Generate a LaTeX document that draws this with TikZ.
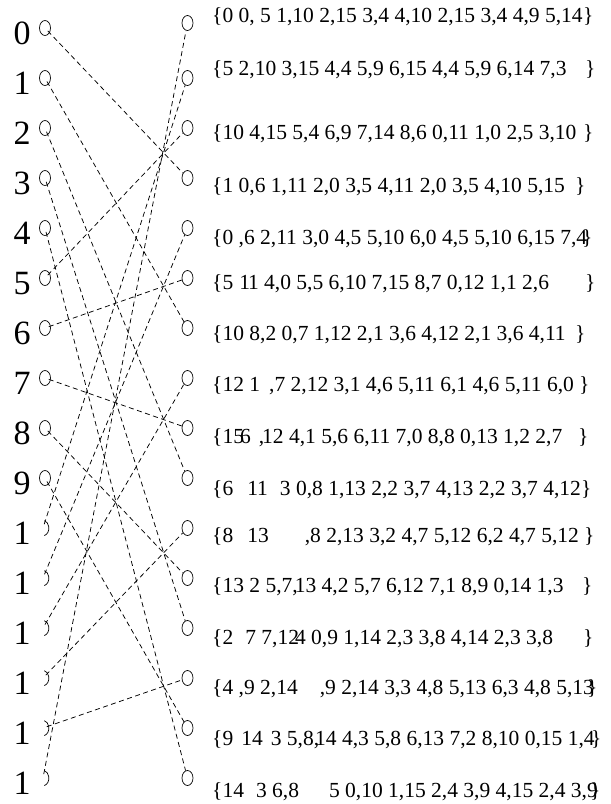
\documentclass[tikz,border=0pt]{standalone}
\usepackage{fontspec}
\setmainfont{Liberation Serif}
\usetikzlibrary{shapes.geometric}

\begin{document}
\begin{tikzpicture}[
  x=1pt, y=-1pt,
  dot/.style={draw, ellipse, minimum width=11pt, minimum height=15pt, inner sep=0pt, line width=0.7pt},
  halfdot/.style={ellipse, minimum width=11pt, minimum height=15pt, inner sep=0pt},
  idx/.style={font=\fontsize{34}{34}\selectfont, anchor=base, inner sep=0pt},
  pairs/.style={font=\fontsize{21.5}{21.5}\selectfont, anchor=base west, inner sep=0pt},
  link/.style={dash pattern=on 5pt off 3.5pt, line width=0.75pt}
]
\useasboundingbox (0,0) rectangle (611,804);
% index labels and the two columns of points
\foreach \k in {0,...,15} {
  \pgfmathtruncatemacro\lab{ifthenelse(\k<10,\k,1)}
  \pgfmathsetmacro\ry{ifthenelse(\k==0,23,28+50*\k)}
  \node[idx] (n\k) at (22,{28+50*\k+16}) {\lab};
  \node[dot] (r\k) at (187.5,\ry) {};
}
\foreach \k in {0,...,9}
  \node[dot] (l\k) at (45,{28+50*\k}) {};
\foreach \k in {10,...,15} {
  \node[halfdot] (l\k) at (43,{28+50*\k}) {};
  \draw[line width=0.7pt] (l\k.-80) arc[start angle=-80, end angle=80, x radius=5.5pt, y radius=7.5pt];
}
% k -> 3(k+1) mod 16
\foreach \k/\m in {0/3,1/6,2/9,3/12,4/15,5/2,6/5,7/8,8/11,9/14,10/1,11/4,12/7,13/10,14/13,15/0}
  \draw[link, shorten <=4pt] (l\k.center) -- (r\m);
% the pair sets
\foreach \k/\ty/\txt/\cx in {
  0/15/{0 0, 5 1,10 2,15 3,4 4,10 2,15 3,4 4,9 5,14}/583,
  1/68/{5 2,10 3,15 4,4 5,9 6,15 4,4 5,9 6,14 7,3}/585,
  2/132/{10 4,15 5,4 6,9 7,14 8,6 0,11 1,0 2,5 3,10}/583,
  3/185/{1 0,6 1,11 2,0 3,5 4,11 2,0 3,5 4,10 5,15}/575,
  4/237/{0 ,6 2,11 3,0 4,5 5,10 6,0 4,5 5,10 6,15 7,4}/582,
  5/282/{5\hspace{6pt}1\kern-2pt1 4,0 5,5 6,10 7,15 8,7 0,12 1,1 2,6}/585,
  6/333/{10 8,2 0,7 1,12 2,1 3,6 4,12 2,1 3,6 4,11}/575,
  7/384/{12 1\hspace{9pt},7 2,12 3,1 4,6 5,11 6,1 4,6 5,11 6,0}/579,
  8/436/{15\kern-4pt6\hspace{8pt},\kern-2pt12 4,1 5,6 6,11 7,0 8,8 0,13 1,2 2,7}/578,
  9/488/{6\hspace{14pt}11\hspace{12pt}3 0,8 1,13 2,2 3,7 4,13 2,2 3,7 4,12}/581,
  10/535/{8\hspace{14pt}13\hspace{36pt},8 2,13 3,2 4,7 5,12 6,2 4,7 5,12}/584,
  11/585/{13 2 5,7,\kern-3pt13 4,2 5,7 6,12 7,1 8,9 0,14 1,3}/582,
  12/637/{2\hspace{12pt}7 7,12\kern-4pt4 0,9 1,14 2,3 3,8 4,14 2,3 3,8}/583,
  13/687/{4 ,9 2,14\hspace{22pt},9 2,14 3,3 4,8 5,13 6,3 4,8 5,13}/587,
  14/738/{9\hspace{8pt}14\hspace{8pt}3 5,8,\kern-4pt14 4,3 5,8 6,13 7,2 8,10 0,15 1,4}/591,
  15/790/{14\hspace{12pt}3 6,8\hspace{30pt}5 0,10 1,15 2,4 3,9 4,15 2,4 3,9}/590} {
  \node[pairs] (t\k) at (212,{\ty+7}) {\{\txt};
  \node[pairs] (c\k) at (\cx,{\ty+7}) {\}};
}
\end{tikzpicture}
\end{document}
